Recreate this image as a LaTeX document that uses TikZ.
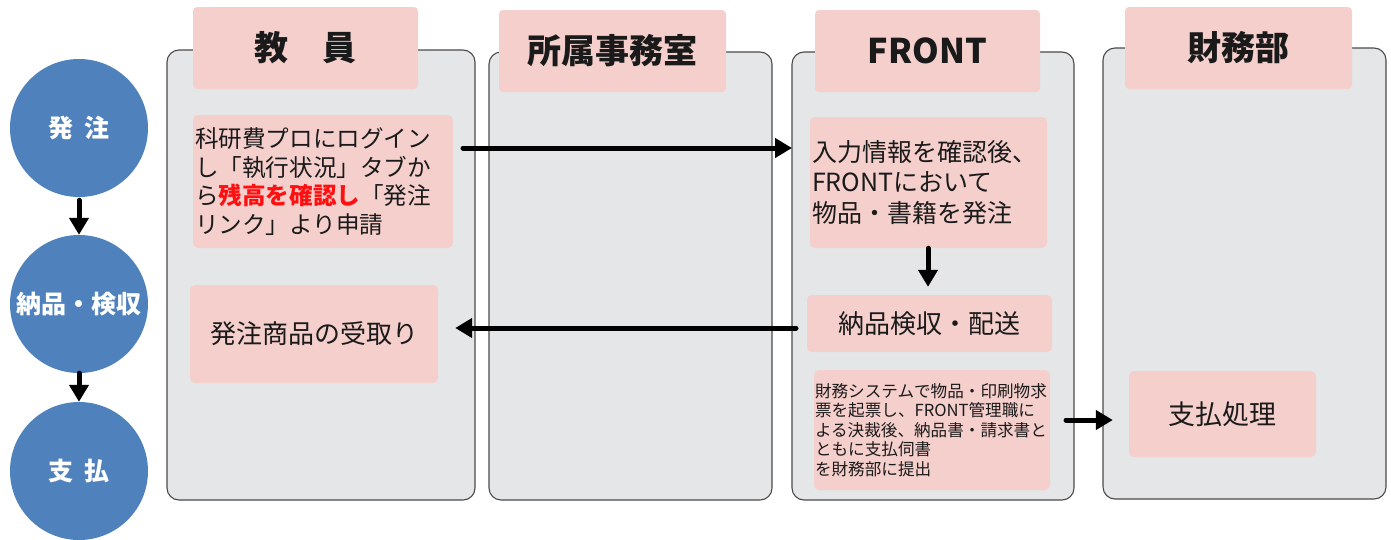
\documentclass[tikz,border=0pt]{standalone}
\usepackage{fontspec}
\setmainfont{Noto Sans CJK JP}
\usetikzlibrary{arrows.meta,calc}
\definecolor{pinkbox}{HTML}{F4CFCC}
\definecolor{lanegray}{HTML}{E5E6E8}
\definecolor{laneline}{HTML}{4A4A4A}
\definecolor{circblue}{HTML}{4F81BD}
\definecolor{redtxt}{HTML}{FF1010}
\definecolor{txt}{HTML}{1A1A1A}
\begin{document}
\begin{tikzpicture}[x=1pt,y=-1pt,
  lane/.style={draw=laneline, line width=1.1pt, fill=lanegray, rounded corners=12pt, inner sep=0pt},
  header/.style={fill=pinkbox, rounded corners=4pt, inner sep=0pt, minimum height=82, text=txt,
    font=\fontsize{34}{40}\selectfont\bfseries},
  pbox/.style={fill=pinkbox, rounded corners=5pt, inner sep=2pt, text=txt},
  phase/.style={circle, fill=circblue, minimum size=138, inner sep=0pt, text=white,
    font=\fontsize{25}{30}\selectfont\bfseries},
  arr/.style={line width=5pt, line cap=round, -{Triangle[length=17pt,width=19pt]}}
]
\useasboundingbox (0,0) rectangle (1391,539);

% phase circles
\node[phase] (c1) at (79,128) {発\hspace{0.45em}注};
\node[phase] (c2) at (79,304) {納品・検収};
\node[phase] (c3) at (79,471) {支\hspace{0.45em}払};
\draw[arr, shorten <=3pt] (c1.south) -- (c2.north);
\draw[arr, shorten <=0pt] (c2.south) -- (c3.north);

% lanes
\node[lane, minimum width=308, minimum height=450] (lane1) at (321,275) {};
\node[lane, minimum width=283, minimum height=448] (lane2) at (630.5,276) {};
\node[lane, minimum width=282, minimum height=448] (lane3) at (933,276) {};
\node[lane, minimum width=283, minimum height=451] (lane4) at (1244.5,273.5) {};

% headers
\node[header, minimum width=225] (h1) at (305.5,48) {教　員};
\node[header, minimum width=227] (h2) at (612.5,51) {所属事務室};
\node[header, minimum width=225] (h3) at (927.5,51) {FRONT};
\node[header, minimum width=227] (h4) at (1238.5,48) {財務部};

% boxes
\node[pbox, minimum width=260, minimum height=133, text width=256, align=left,
  font=\fontsize{23.6}{28.5}\selectfont] (b1) at (323,181.5)
  {科研費プロにログイン\\し「執行状況」タブか\\ら{\color{redtxt}\bfseries 残高を確認し}「発注\\リンク」より申請};
\node[pbox, minimum width=248, minimum height=98, font=\fontsize{26}{30}\selectfont] (b2) at (314,334)
  {発注商品の受取り};
\node[pbox, minimum width=237, minimum height=131, text width=233, align=left,
  font=\fontsize{25}{30.5}\selectfont] (f1) at (928.5,182.5)
  {入力情報を確認後、\\FRONTにおいて\\物品・書籍を発注};
\node[pbox, minimum width=245, minimum height=57, font=\fontsize{26}{30}\selectfont] (f2) at (929.5,323.5)
  {納品検収・配送};
\node[pbox, minimum width=236, minimum height=120, text width=234, inner sep=1pt, align=left,
  font=\fontsize{16.6}{19.5}\selectfont] (f3) at (932,430)
  {財務システムで物品・印刷物求\\票を起票し、FRONT管理職に\\よる決裁後、納品書・請求書と\\ともに支払伺書\\を財務部に提出};
\node[pbox, minimum width=187, minimum height=86, font=\fontsize{27}{32}\selectfont] (z1) at (1222.5,414)
  {支払処理};

% connectors
\coordinate (a1s) at (463,148);
\coordinate (a1e) at (792,148);
\draw[arr] (a1s) -- (a1e);
\coordinate (a2s) at (796,328);
\draw[arr] (a2s) -- ($(b2.east |- a2s)+(17,0)$);
\draw[arr, shorten >=8pt] (f1.south -| 928,0) -- (f2.north -| 928,0);
\coordinate (a4s) at (1066,420);
\draw[arr] (a4s) -- ($(z1.west |- a4s)+(-16,0)$);
\end{tikzpicture}
\end{document}
